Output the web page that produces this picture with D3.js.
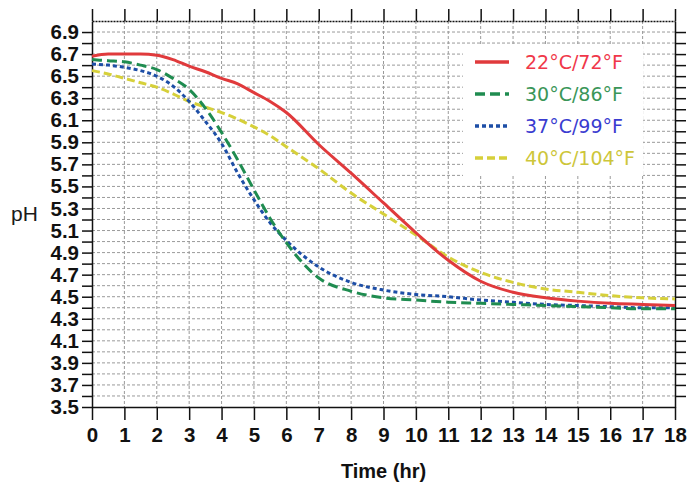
<!DOCTYPE html>
<html>
<head>
<meta charset="utf-8">
<script src="https://cdn.jsdelivr.net/npm/d3@7"></script>
<style>
  body { margin: 0; background: #fff; }
  .visual { width: 689px; height: 484px; }
</style>
</head>
<body>
<div class="visual"></div>
<script>
//data
const hours = [0,0.5,1,1.5,2,2.5,3,3.5,4,4.5,5,5.5,6,7,8,9,10,11,12,13,14,15,16,17,18];
const ph22 = [6.68,6.70,6.70,6.70,6.69,6.65,6.59,6.54,6.48,6.43,6.35,6.27,6.17,5.88,5.62,5.35,5.08,4.83,4.64,4.54,4.49,4.46,4.44,4.43,4.42];
const ph30 = [6.65,6.64,6.63,6.60,6.56,6.48,6.38,6.21,5.99,5.74,5.47,5.21,4.99,4.67,4.55,4.49,4.47,4.45,4.44,4.43,4.42,4.41,4.40,4.39,4.39];
const ph37 = [6.61,6.60,6.58,6.55,6.50,6.41,6.27,6.09,5.89,5.62,5.38,5.17,5.01,4.77,4.63,4.56,4.52,4.50,4.47,4.45,4.43,4.42,4.41,4.40,4.40];
const ph40 = [6.55,6.52,6.48,6.44,6.40,6.34,6.27,6.22,6.17,6.11,6.04,5.96,5.86,5.66,5.44,5.25,5.06,4.86,4.72,4.63,4.57,4.54,4.51,4.49,4.48];
const seriesNames = ["22°C/72°F","30°C/86°F","37°C/99°F","40°C/104°F"];
const xTicks = d3.range(0, 19);
const yTicks = d3.range(36, 70).map(d => d / 10);      // 3.6 .. 6.9
const yLabels = d3.range(35, 70, 2).map(d => d / 10);  // 3.5, 3.7 .. 6.9

//set constants
const margin = {top: 21, bottom: 77, left: 92, right: 14};
const width = 689;
const height = 484;
const w = width - margin.left - margin.right;
const h = height - margin.top - margin.bottom;

const svg = d3.select(".visual")
  .append("svg")
  .attr("width", width)
  .attr("height", height)
  .style("font-family", "'Liberation Sans', Arial, sans-serif");

const g = svg.append("g")
  .attr("transform", "translate(" + margin.left + "," + margin.top + ")");

const xScale = d3.scaleLinear().domain([0, 18]).range([0, w]);
const yScale = d3.scaleLinear().domain([3.5, 7.0]).range([h, 0]);

//grid
g.append("g")
  .selectAll("line")
  .data(yTicks)
  .enter()
  .append("line")
  .attr("x1", 0).attr("x2", w)
  .attr("y1", d => yScale(d)).attr("y2", d => yScale(d))
  .attr("stroke", "#9a9a9a")
  .attr("stroke-width", 1)
  .attr("stroke-dasharray", "3,2");
g.append("g")
  .selectAll("line")
  .data(xTicks.slice(1, 18))
  .enter()
  .append("line")
  .attr("x1", d => xScale(d)).attr("x2", d => xScale(d))
  .attr("y1", 0).attr("y2", h)
  .attr("stroke", "#9a9a9a")
  .attr("stroke-width", 1)
  .attr("stroke-dasharray", "3,2");

//legend background covers the grid
g.append("rect")
  .attr("x", 463 - margin.left)
  .attr("y", 45 - margin.top)
  .attr("width", 180)
  .attr("height", 131)
  .attr("fill", "#fff");

//axes
const axisStyle = sel => {
  sel.selectAll("path").attr("stroke", "#111").attr("stroke-width", 1.5);
  sel.selectAll("line").attr("stroke", "#111").attr("stroke-width", 1.5);
  sel.selectAll("text")
    .attr("fill", "#111")
    .style("font-size", "20.5px")
    .style("font-weight", "bold");
};

g.append("g")
  .attr("transform", "translate(0," + h + ")")
  .call(d3.axisBottom(xScale).tickValues(xTicks).tickSize(13).tickSizeOuter(0).tickPadding(7))
  .call(axisStyle);

g.append("g")
  .call(d3.axisLeft(yScale)
    .tickValues(d3.range(35, 70).map(d => d / 10))
    .tickFormat(d => yLabels.some(v => Math.abs(v - d) < 1e-6) ? d3.format(".1f")(d) : "")
    .tickSize(10).tickSizeOuter(0).tickPadding(3))
  .call(axisStyle);

g.append("g")
  .attr("transform", "translate(" + w + ",0)")
  .call(d3.axisRight(yScale).tickValues(yTicks).tickFormat("").tickSize(11).tickSizeOuter(0))
  .call(axisStyle);

const topAxis = g.append("g")
  .call(d3.axisTop(xScale).tickValues(xTicks).tickFormat("").tickSize(12).tickSizeOuter(0))
  .call(axisStyle);
topAxis.select("path").attr("stroke-dasharray", "2,1");

//lines
const series = [
  {name: seriesNames[0], values: ph22, color: "#e03a3c", dash: null},
  {name: seriesNames[1], values: ph30, color: "#1f8c50", dash: "10,5"},
  {name: seriesNames[2], values: ph37, color: "#1d4ea6", dash: "4,3"},
  {name: seriesNames[3], values: ph40, color: "#d6d03a", dash: "8,4"}
];
const textColors = ["#f0384a", "#3a9658", "#3a3cd0", "#cdc63a"];

const line = d3.line()
  .x((d, i) => xScale(hours[i]))
  .y(d => yScale(d))
  .curve(d3.curveMonotoneX);

//draw yellow first so red sits on top like the original
[3, 2, 1, 0].forEach(k => {
  g.append("path")
    .datum(series[k].values)
    .attr("fill", "none")
    .attr("stroke", series[k].color)
    .attr("stroke-width", 3)
    .attr("stroke-dasharray", series[k].dash)
    .attr("d", line);
});

//legend
const legend = svg.selectAll(".legend")
  .data(series)
  .enter()
  .append("g")
  .attr("class", "legend")
  .attr("transform", (d, i) => "translate(0," + (62 + i * 32) + ")");
legend.append("line")
  .attr("x1", 475).attr("x2", 509)
  .attr("y1", 0).attr("y2", 0)
  .attr("stroke", d => d.color)
  .attr("stroke-width", 3.5)
  .attr("stroke-dasharray", d => d.dash);
legend.append("text")
  .attr("x", 525)
  .attr("y", 7)
  .style("font-family", "'DejaVu Sans', Verdana, sans-serif")
  .style("font-size", "19px")
  .attr("fill", (d, i) => textColors[i])
  .text(d => d.name);

//axis titles
svg.append("text")
  .attr("x", 11)
  .attr("y", 221)
  .style("font-size", "21px")
  .attr("fill", "#1a1a1a")
  .text("pH");
svg.append("text")
  .attr("x", margin.left + w / 2)
  .attr("y", 478)
  .style("text-anchor", "middle")
  .style("font-size", "20px")
  .style("font-weight", "bold")
  .attr("fill", "#111")
  .text("Time (hr)");
</script>
</body>
</html>
